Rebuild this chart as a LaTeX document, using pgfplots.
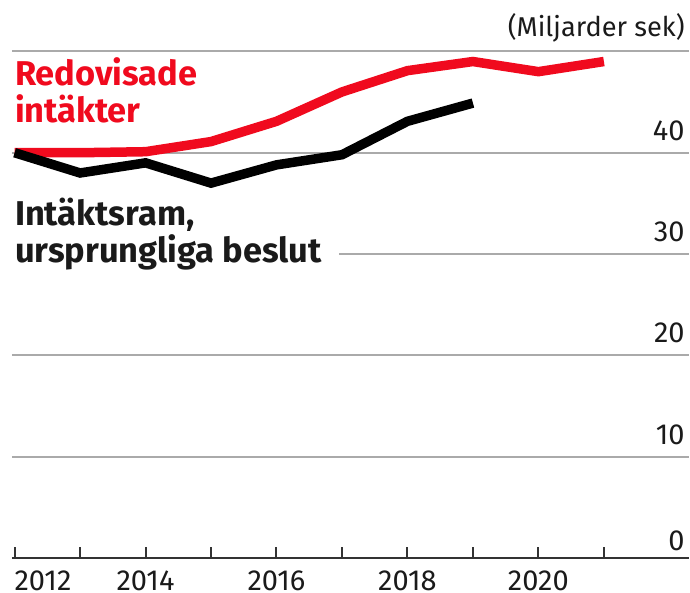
\documentclass[border=0pt]{standalone}
\usepackage{fontspec}
\setmainfont{Fira Sans}
\usepackage{pgfplots}
\pgfplotsset{compat=1.18}

\definecolor{redline}{RGB}{240,10,30}
\definecolor{labeldark}{RGB}{26,26,26}
\definecolor{gridgray}{RGB}{170,170,170}

\begin{document}
\begin{tikzpicture}
\begin{axis}[
  scale only axis,
  width=338.5pt, height=253.3pt,
  xmin=2011.96, xmax=2022.30,
  ymin=0, ymax=50,
  clip=false,
  axis x line=bottom, x axis line style={-,line width=1.3pt,color=black!80},
  axis y line=right, y axis line style={draw=none},
  tick align=inside,
  xtick={2012,...,2021},
  xticklabels={\makebox[0pt][l]{2012},,2014,,2016,,2018,,2020,},
  major x tick style={line width=1pt,color=black!80},
  major tick length=5.5pt,
  xticklabel style={anchor=north,inner sep=0pt,yshift=-6.3pt,
    font=\fontsize{14.5}{16}\selectfont,text=labeldark},
  ytick={0,10,20,30,40,50},
  yticklabels={\raisebox{-2.7pt}{0},10,20,30,40,
    \raisebox{1pt}{\fontsize{13.6}{15}\selectfont(Miljarder sek)}},
  major y tick style={draw=none},
  yticklabel style={anchor=base east,inner sep=0pt,xshift=-2pt,yshift=6.3pt,
    font=\fontsize{14.5}{16}\selectfont,text=labeldark},
  ymajorgrids,
  major grid style={color=gridgray,line width=1.1pt},
]
\addplot[redline, line width=4.75pt, mark=none] coordinates {
(2012,40)(2013,40)(2014,40.1)(2015,41.1)(2016,43.1)(2017,46)(2018,48.1)(2019,49)(2020,48)(2021,49)};
\addplot[black, line width=4.75pt, mark=none] coordinates {
(2012,40)(2013,38)(2014,39)(2015,37)(2016,38.8)(2017,39.8)(2018,43.1)(2019,44.9)};

\node[anchor=base west,inner sep=0pt,text=redline,font=\fontsize{17.2}{19}\selectfont\bfseries]
  at (axis cs:2012,46.59) {Redovisade};
\node[anchor=base west,inner sep=0pt,text=redline,font=\fontsize{17.2}{19}\selectfont\bfseries]
  at (axis cs:2012,42.97) {intäkter};
\node[anchor=base west,inner sep=0pt,text=labeldark,font=\fontsize{17.2}{19}\selectfont\bfseries]
  at (axis cs:2012,32.77) {Intäktsram,};
\node[anchor=base west,inner xsep=8.5pt,inner ysep=2pt,xshift=-8.5pt,fill=white,text=labeldark,
  font=\fontsize{17.2}{19}\selectfont\bfseries]
  at (axis cs:2012,29.15) {ursprungliga beslut};
\end{axis}
\pgfresetboundingbox
\path[use as bounding box] (current axis.south west) ++(-6pt,-17.5pt)
  rectangle ([shift={(0.5pt,25.7pt)}]current axis.north east);
\end{tikzpicture}
\end{document}
